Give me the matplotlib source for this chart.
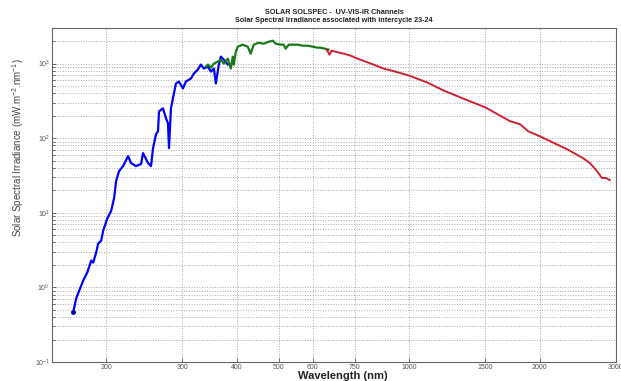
import matplotlib
matplotlib.use('Agg')
import matplotlib.pyplot as plt
from matplotlib.ticker import NullFormatter, LogLocator

plt.rcParams['font.family'] = ['Liberation Sans', 'DejaVu Sans']
plt.rcParams['mathtext.fontset'] = 'custom'
plt.rcParams['mathtext.rm'] = 'Liberation Sans'

# UV channel (blue)
uv_wl = [167.9, 170.6, 172.4, 177.1, 180.9, 184.8, 186.7, 189.7, 191.7, 194.8, 196.9,
         201.1, 205.4, 208.7, 210.9, 214.3, 218.9, 224.7, 228.3, 234.4, 240.8, 243.3,
         249.9, 253.9, 256.6, 260.7, 263.5, 264.9, 270.5, 274.9, 277.8, 279.3, 282.2,
         285.2, 289.8, 294.4, 300.8, 305.6, 313.8, 318.8, 325.6, 330.8, 336.1, 343.4,
         348.9, 354.5, 358.3, 364.0, 367.9, 373.8, 381.8]
uv_ssi = [0.464, 0.713, 0.832, 1.24, 1.58, 2.29, 2.15, 2.93, 3.86, 4.23, 5.75,
          8.32, 10.6, 15.8, 26.7, 36.3, 42.3, 57.5, 46.4, 42.3, 45.0, 63.1,
          46.4, 42.3, 73.6, 113, 124, 229, 251, 185, 158, 73.6, 251,
          342, 541, 575, 464, 575, 631, 736, 832, 970, 858, 912,
          782, 858, 541, 970, 1240, 1130, 970]

# VIS channel (green)
vis_wl = [339.7, 343.4, 348.9, 354.5, 362.1, 367.9, 373.8, 381.8, 387.9, 392.0, 394.1,
          398.3, 402.6, 413.4, 424.5, 431.2, 438.1, 449.9, 462.0, 474.4, 484.6, 492.4,
          505.6, 513.7, 519.2, 527.5, 541.7, 553.3, 568.1, 583.4, 599.0, 615.1, 625.0,
          638.3, 652.0]
vis_ssi = [912, 970, 885, 1000, 1063, 1130, 1000, 1166, 858, 1240, 970,
           1445, 1687, 1792, 1687, 1359, 1792, 1905, 1848, 1963, 2028, 1848,
           1792, 1792, 1585, 1792, 1792, 1792, 1738, 1738, 1687, 1634, 1634,
           1585, 1538]

# IR channel (red)
ir_wl = [645.1, 655.5, 662.5, 676.7, 706.0, 732.8, 760.3, 793.2, 827.6, 873, 930,
         1000, 1100, 1200, 1350, 1500, 1600, 1710, 1804, 1882, 2004, 2115, 2314,
         2518, 2614, 2713, 2786, 2844, 2905]
ir_ssi = [1538, 1318, 1490, 1445, 1359, 1279, 1166, 1063, 970, 858, 780,
          690, 560, 437, 330, 259, 210, 169, 154, 124, 106, 91.2, 71.3,
          54.1, 46.4, 36.3, 29.3, 29.3, 27.5]

xticks = [200, 300, 400, 500, 600, 750, 1000, 1500, 2000, 3000]

fig = plt.figure(figsize=(6.21, 3.81), dpi=100)
ax = fig.add_axes([0.0837, 0.0499, 0.908, 0.8766])

ax.plot(uv_wl, uv_ssi, color='#0000ff', lw=1.6)
ax.plot(vis_wl, vis_ssi, color='#1a7a1a', lw=1.6)
ax.plot(ir_wl, ir_ssi, color='#cc2233', lw=1.4)
ax.plot(uv_wl[0], uv_ssi[0], 'o', color='#0000aa', ms=2.5)

ax.set_xscale('log')
ax.set_yscale('log')
ax.set_xlim(150, 3000)
ax.set_ylim(0.1, 3000)

ax.set_xticks(xticks)
ax.set_xticklabels([str(t) for t in xticks])
ax.xaxis.set_minor_formatter(NullFormatter())
ax.xaxis.set_minor_locator(LogLocator(subs=[]))
ax.yaxis.set_minor_locator(LogLocator(subs=range(2, 10)))
ax.yaxis.set_minor_formatter(NullFormatter())

ax.tick_params(which='both', direction='in', labelsize=5, colors='#555555',
               length=3, width=0.6, pad=1.5)
ax.tick_params(which='minor', length=2)
ax.grid(True, which='major', ls=':', color='#aaaaaa', lw=0.7)
ax.grid(True, which='minor', axis='y', ls=':', color='#aaaaaa', lw=0.7)
for s in ax.spines.values():
    s.set_color('#666666')
    s.set_linewidth(0.8)

fig.text(0.538, 1 - 13 / 381, 'SOLAR SOLSPEC -  UV-VIS-IR Channels', ha='center',
         va='center', fontsize=5.2, fontweight='bold', color='#222222')
fig.text(0.538, 1 - 21 / 381, 'Solar Spectral Irradiance associated with intercycle 23-24',
         ha='center', va='center', fontsize=5.2, fontweight='bold', color='#222222')
fig.text(0.552, 1 - 376 / 381, 'Wavelength (nm)', ha='center', va='center',
         fontsize=8, fontweight='bold', color='#222222')
fig.text(18 / 621, 1 - 148 / 381, 'Solar Spectral Irradiance (mW.m$^{-2}$.nm$^{-1}$)',
         rotation=90, ha='center', va='center', fontsize=7, color='#444444')

fig.savefig('out.png', dpi=100)
